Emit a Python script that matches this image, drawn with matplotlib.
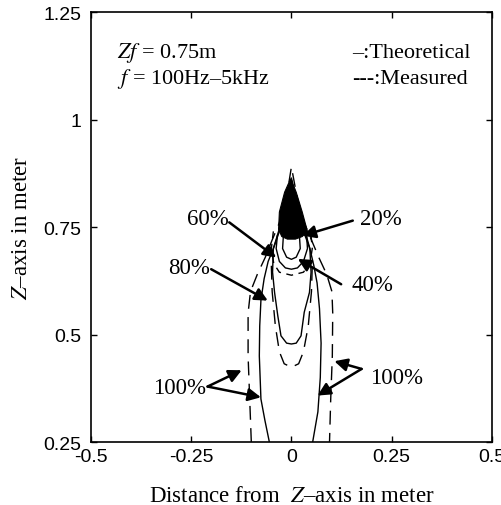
#!/usr/bin/env python3
"""Focal-zone contour plot: theoretical (solid) vs measured (dashed) levels."""

import matplotlib
matplotlib.use("Agg")
import matplotlib.pyplot as plt

plt.rcParams["mathtext.fontset"] = "stix"

SERIF = "Liberation Serif"
SANS = "Liberation Sans"

# theoretical 100% contour (solid, outer)
theo100_x = [-0.055, -0.066, -0.076, -0.080, -0.079, -0.076, -0.068, -0.058, -0.045,
             -0.032, -0.018, 0.0, 0.018, 0.034, 0.046, 0.056, 0.064, 0.070, 0.074,
             0.072, 0.066, 0.053]
theo100_y = [0.25, 0.30, 0.35, 0.45, 0.52, 0.58, 0.63, 0.67, 0.70,
             0.74, 0.79, 0.86, 0.79, 0.74, 0.70, 0.66, 0.62, 0.56, 0.48,
             0.40, 0.32, 0.25]

# theoretical 80% contour (solid, inner U)
theo80_x = [-0.030, -0.045, -0.047, -0.042, -0.034, -0.026, -0.012, 0.0, 0.012,
            0.024, 0.032, 0.045, 0.049, 0.046, 0.030]
theo80_y = [0.74, 0.70, 0.645, 0.598, 0.544, 0.497, 0.480, 0.478, 0.480,
            0.497, 0.552, 0.598, 0.645, 0.70, 0.74]

# theoretical 60% / 40% loops under the dense core
theo60_x = [-0.035, -0.038, -0.030, -0.015, 0.0, 0.015, 0.030, 0.040, 0.038]
theo60_y = [0.73, 0.70, 0.67, 0.655, 0.652, 0.655, 0.67, 0.70, 0.73]
theo40_x = [-0.020, -0.022, -0.012, 0.0, 0.012, 0.022, 0.020]
theo40_y = [0.73, 0.70, 0.68, 0.675, 0.68, 0.70, 0.73]

# dense core where the 20-60% contours crowd together
core_x = [0.0, -0.008, -0.017, -0.030, -0.032, -0.024, -0.010, 0.010, 0.027,
          0.040, 0.027, 0.012, 0.004, 0.0]
core_y = [0.865, 0.85, 0.831, 0.785, 0.745, 0.728, 0.722, 0.722, 0.728,
          0.740, 0.785, 0.831, 0.85, 0.865]

# measured 100% contour (dashed, outer)
meas100_x = [-0.100, -0.104, -0.108, -0.108, -0.102, -0.085, -0.065, -0.048,
             -0.030, -0.012, 0.0, 0.014, 0.032, 0.050, 0.068, 0.088, 0.101,
             0.103, 0.102, 0.098, 0.095]
meas100_y = [0.25, 0.35, 0.45, 0.55, 0.60, 0.64, 0.68, 0.72,
             0.76, 0.82, 0.89, 0.82, 0.76, 0.72, 0.68, 0.64, 0.60,
             0.55, 0.45, 0.35, 0.25]

# measured 80% contour (dashed, inner U)
meas80_x = [-0.050, -0.048, -0.040, -0.030, -0.018, 0.0, 0.018, 0.030, 0.042,
            0.050, 0.052]
meas80_y = [0.66, 0.60, 0.52, 0.46, 0.432, 0.424, 0.432, 0.46, 0.52,
            0.60, 0.66]

# measured 60% contour (dashed, around the core)
meas60_x = [-0.045, -0.050, -0.044, -0.030, 0.0, 0.030, 0.046, 0.052, 0.048]
meas60_y = [0.74, 0.70, 0.665, 0.645, 0.638, 0.645, 0.665, 0.70, 0.74]

# labels: (text, label x, label y, [(arrow start), (arrow head), ...])
LABELS = [
    ("60%", -0.209, 0.769, [((-0.155, 0.761), (-0.038, 0.679))]),
    ("20%", 0.224, 0.769, [((0.153, 0.765), (0.028, 0.730))]),
    ("80%", -0.254, 0.656, [((-0.200, 0.652), (-0.059, 0.579))]),
    ("40%", 0.203, 0.617, [((0.124, 0.617), (0.016, 0.676))]),
    ("100%", -0.279, 0.377, [((-0.209, 0.379), (-0.124, 0.417)),
                             ((-0.209, 0.379), (-0.076, 0.354))]),
    ("100%", 0.261, 0.400, [((0.175, 0.420), (0.107, 0.438)),
                            ((0.175, 0.420), (0.065, 0.358))]),
]

XTICKS = [-0.5, -0.25, 0, 0.25, 0.5]
XTICKLABELS = ["-0.5", "-0.25", "0", "0.25", "0.5"]
YTICKS = [0.25, 0.5, 0.75, 1.0, 1.25]
YTICKLABELS = ["0.25", "0.5", "0.75", "1", "1.25"]


def main():
    fig = plt.figure(figsize=(5.02, 5.06), dpi=100)
    ax = fig.add_axes([0.181, 0.1245, 0.799, 0.8495])

    lw = 1.0
    dash = (0, (10, 6))
    ax.plot(theo100_x, theo100_y, color="black", lw=lw)
    ax.plot(theo80_x, theo80_y, color="black", lw=lw)
    ax.plot(theo60_x, theo60_y, color="black", lw=lw)
    ax.plot(theo40_x, theo40_y, color="black", lw=lw)
    ax.fill(core_x, core_y, color="black", lw=0.8)
    ax.plot(meas100_x, meas100_y, color="black", lw=lw, linestyle=dash)
    ax.plot(meas80_x, meas80_y, color="black", lw=lw, linestyle=dash)
    ax.plot(meas60_x, meas60_y, color="black", lw=lw, linestyle=(0, (5, 4)))

    for text, tx, ty, arrows in LABELS:
        ax.text(tx, ty, text, family=SERIF, fontsize=16.5, ha="center", va="center")
        for start, head in arrows:
            ax.annotate("", xy=head, xytext=start,
                        arrowprops=dict(arrowstyle="-|>", color="black", lw=1.8,
                                        mutation_scale=19, shrinkA=0, shrinkB=0))

    ax.text(-0.434, 1.157, r"$Zf$ = 0.75m", family=SERIF, fontsize=16,
            ha="left", va="center")
    ax.text(-0.434, 1.096, r"$f$ = 100Hz–5kHz", family=SERIF, fontsize=16,
            ha="left", va="center")
    ax.text(0.152, 1.157, "–:Theoretical", family=SERIF, fontsize=16,
            ha="left", va="center")
    ax.text(0.152, 1.096, "---:Measured", family=SERIF, fontsize=16,
            ha="left", va="center")

    ax.set_xlim(-0.5, 0.5)
    ax.set_ylim(0.25, 1.25)
    ax.set_xticks(XTICKS)
    ax.set_xticklabels(XTICKLABELS, family=SANS, fontsize=14)
    ax.set_yticks(YTICKS)
    ax.set_yticklabels(YTICKLABELS, family=SANS, fontsize=14)
    ax.tick_params(direction="in", length=4, width=1, top=True, right=True)
    ax.tick_params(axis="x", pad=4)
    ax.tick_params(axis="y", pad=7)
    for s in ax.spines.values():
        s.set_linewidth(1.2)

    ax.set_xlabel(r"Distance from  $Z$–axis in meter", family=SERIF, fontsize=16.5,
                  labelpad=15)
    ax.set_ylabel(r"$Z$–axis in meter", family=SERIF, fontsize=16.5, labelpad=8)

    fig.savefig("out.png", dpi=100)
    plt.close(fig)


if __name__ == "__main__":
    main()
